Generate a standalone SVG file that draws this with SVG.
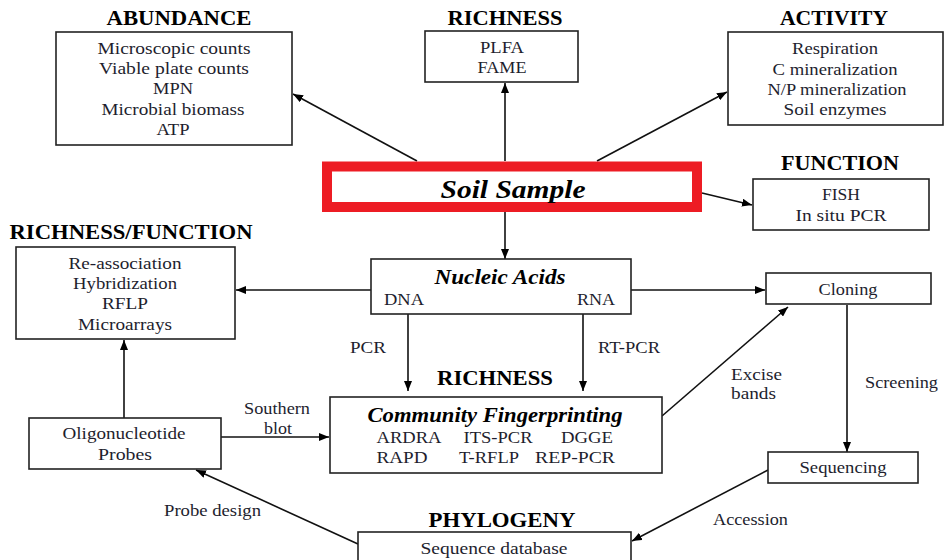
<svg xmlns="http://www.w3.org/2000/svg" width="944" height="560" viewBox="0 0 944 560" font-family="Liberation Serif, Times New Roman, serif">
<defs>
<marker id="ah" viewBox="0 0 10 8" refX="10" refY="4" markerWidth="10" markerHeight="8" orient="auto" markerUnits="userSpaceOnUse"><path d="M0,0 L10,4 L0,8 z" fill="#000"/></marker>
</defs>
<rect width="944" height="560" fill="#fff"/>

<g id="connectors">
<g stroke="#111" stroke-width="1.6" fill="none" marker-end="url(#ah)">
<line x1="417" y1="161" x2="293" y2="94"/>
<line x1="505" y1="161" x2="505" y2="83"/>
<line x1="597" y1="161" x2="727" y2="92"/>
<line x1="702" y1="193" x2="752" y2="205"/>
<line x1="505" y1="212" x2="505" y2="259"/>
<line x1="371" y1="290" x2="236" y2="290"/>
<line x1="631" y1="290" x2="765" y2="290"/>
<line x1="408" y1="314" x2="408" y2="391"/>
<line x1="583" y1="314" x2="583" y2="391"/>
<line x1="662" y1="416" x2="788" y2="307"/>
<line x1="847" y1="305" x2="847" y2="452"/>
<line x1="768" y1="470" x2="632" y2="541"/>
<line x1="358" y1="544" x2="196" y2="470"/>
<line x1="124" y1="418" x2="124" y2="340"/>
<line x1="221" y1="437" x2="329" y2="437"/>
</g>
<g font-family="Liberation Serif, Times New Roman, serif" font-size="16.5" fill="#1e1e2e" lengthAdjust="spacingAndGlyphs">
<text x="350" y="353" textLength="36" lengthAdjust="spacingAndGlyphs">PCR</text>
<text x="598" y="353" textLength="62" lengthAdjust="spacingAndGlyphs">RT-PCR</text>
<text x="731" y="380" textLength="51" lengthAdjust="spacingAndGlyphs">Excise</text>
<text x="731" y="399" textLength="45" lengthAdjust="spacingAndGlyphs">bands</text>
<text x="865" y="388" textLength="73" lengthAdjust="spacingAndGlyphs">Screening</text>
<text x="713" y="525" textLength="75" lengthAdjust="spacingAndGlyphs">Accession</text>
<text x="244" y="414" textLength="66" lengthAdjust="spacingAndGlyphs">Southern</text>
<text x="264" y="434" textLength="28" lengthAdjust="spacingAndGlyphs">blot</text>
<text x="164" y="516" textLength="97" lengthAdjust="spacingAndGlyphs">Probe design</text>
</g>
</g>

<g font-family="Liberation Serif, Times New Roman, serif" text-anchor="middle">
<g fill="#fff" stroke="#222" stroke-width="1.6">
<rect x="56" y="32" width="236" height="113"/>
<rect x="425" y="31" width="153" height="51"/>
<rect x="728" y="32" width="215" height="93"/>
<rect x="753" y="179" width="176" height="51"/>
<rect x="16" y="247" width="219" height="92"/>
<rect x="371" y="259" width="260" height="55"/>
<rect x="766" y="273" width="165" height="31"/>
<rect x="330" y="397" width="332" height="76"/>
<rect x="29" y="418" width="192" height="51"/>
<rect x="768" y="452" width="150" height="31"/>
<rect x="358" y="532" width="273" height="40"/>
</g>

<g id="abundance">
<text x="179" y="25" font-size="20" font-weight="bold" textLength="145" lengthAdjust="spacingAndGlyphs">ABUNDANCE</text>
<g font-size="16.5" fill="#1e1e2e">
<text x="174" y="54" textLength="153" lengthAdjust="spacingAndGlyphs">Microscopic counts</text>
<text x="174" y="74" textLength="150" lengthAdjust="spacingAndGlyphs">Viable plate counts</text>
<text x="173" y="94" textLength="40" lengthAdjust="spacingAndGlyphs">MPN</text>
<text x="173" y="115" textLength="143" lengthAdjust="spacingAndGlyphs">Microbial biomass</text>
<text x="173" y="135" textLength="33" lengthAdjust="spacingAndGlyphs">ATP</text>
</g>
</g>

<g id="richness-top">
<text x="505" y="25" font-size="20" font-weight="bold" textLength="115" lengthAdjust="spacingAndGlyphs">RICHNESS</text>
<g font-size="16.5" fill="#1e1e2e">
<text x="502" y="53" textLength="44" lengthAdjust="spacingAndGlyphs">PLFA</text>
<text x="502" y="73" textLength="49" lengthAdjust="spacingAndGlyphs">FAME</text>
</g>
</g>

<g id="activity">
<text x="834" y="25" font-size="20" font-weight="bold" textLength="108" lengthAdjust="spacingAndGlyphs">ACTIVITY</text>
<g font-size="16.5" fill="#1e1e2e">
<text x="835" y="54" textLength="86" lengthAdjust="spacingAndGlyphs">Respiration</text>
<text x="835" y="75" textLength="125" lengthAdjust="spacingAndGlyphs">C mineralization</text>
<text x="837" y="95" textLength="139" lengthAdjust="spacingAndGlyphs">N/P mineralization</text>
<text x="835" y="115" textLength="103" lengthAdjust="spacingAndGlyphs">Soil enzymes</text>
</g>
</g>

<g id="soil-sample">
<rect x="327" y="166.5" width="370" height="40.5" fill="#fff" stroke="#ed1c24" stroke-width="10"/>
<text x="513" y="198" font-size="26" font-weight="bold" font-style="italic" textLength="145" lengthAdjust="spacingAndGlyphs">Soil Sample</text>
</g>

<g id="function">
<text x="840" y="170" font-size="20" font-weight="bold" textLength="118" lengthAdjust="spacingAndGlyphs">FUNCTION</text>
<g font-size="16.5" fill="#1e1e2e">
<text x="841" y="200" textLength="38" lengthAdjust="spacingAndGlyphs">FISH</text>
<text x="841" y="221" textLength="91" lengthAdjust="spacingAndGlyphs">In situ PCR</text>
</g>
</g>

<g id="richness-function">
<text x="131" y="239" font-size="20" font-weight="bold" textLength="243" lengthAdjust="spacingAndGlyphs">RICHNESS/FUNCTION</text>
<g font-size="16.5" fill="#1e1e2e">
<text x="125" y="269" textLength="113" lengthAdjust="spacingAndGlyphs">Re-association</text>
<text x="125" y="289" textLength="104" lengthAdjust="spacingAndGlyphs">Hybridization</text>
<text x="125" y="309" textLength="46" lengthAdjust="spacingAndGlyphs">RFLP</text>
<text x="125" y="330" textLength="94" lengthAdjust="spacingAndGlyphs">Microarrays</text>
</g>
</g>

<g id="nucleic-acids">
<text x="500" y="284" font-size="20" font-weight="bold" font-style="italic" textLength="131" lengthAdjust="spacingAndGlyphs">Nucleic Acids</text>
<g font-size="16.5" fill="#1e1e2e">
<text x="404" y="305" textLength="40" lengthAdjust="spacingAndGlyphs">DNA</text>
<text x="596" y="305" textLength="38" lengthAdjust="spacingAndGlyphs">RNA</text>
</g>
</g>

<g id="cloning">
<text x="848" y="295" font-size="16.5" fill="#1e1e2e" textLength="59" lengthAdjust="spacingAndGlyphs">Cloning</text>
</g>

<g id="community-fingerprinting">
<text x="495" y="385" font-size="20" font-weight="bold" textLength="116" lengthAdjust="spacingAndGlyphs">RICHNESS</text>
<text x="495" y="422" font-size="20" font-weight="bold" font-style="italic" textLength="255" lengthAdjust="spacingAndGlyphs">Community Fingerprinting</text>
<g font-size="16.5" fill="#1e1e2e">
<text x="409" y="443" textLength="65" lengthAdjust="spacingAndGlyphs">ARDRA</text>
<text x="498" y="443" textLength="69" lengthAdjust="spacingAndGlyphs">ITS-PCR</text>
<text x="587" y="443" textLength="52" lengthAdjust="spacingAndGlyphs">DGGE</text>
<text x="402" y="463" textLength="51" lengthAdjust="spacingAndGlyphs">RAPD</text>
<text x="489" y="463" textLength="60" lengthAdjust="spacingAndGlyphs">T-RFLP</text>
<text x="575" y="463" textLength="80" lengthAdjust="spacingAndGlyphs">REP-PCR</text>
</g>
</g>

<g id="oligonucleotide-probes">
<g font-size="16.5" fill="#1e1e2e">
<text x="124" y="439" textLength="123" lengthAdjust="spacingAndGlyphs">Oligonucleotide</text>
<text x="125" y="460" textLength="54" lengthAdjust="spacingAndGlyphs">Probes</text>
</g>
</g>

<g id="sequencing">
<text x="843" y="473" font-size="16.5" fill="#1e1e2e" textLength="87" lengthAdjust="spacingAndGlyphs">Sequencing</text>
</g>

<g id="sequence-database">
<text x="502" y="527" font-size="20" font-weight="bold" textLength="147" lengthAdjust="spacingAndGlyphs">PHYLOGENY</text>
<text x="494" y="554" font-size="16.5" fill="#1e1e2e" textLength="147" lengthAdjust="spacingAndGlyphs">Sequence database</text>
</g>
</g>
</svg>
